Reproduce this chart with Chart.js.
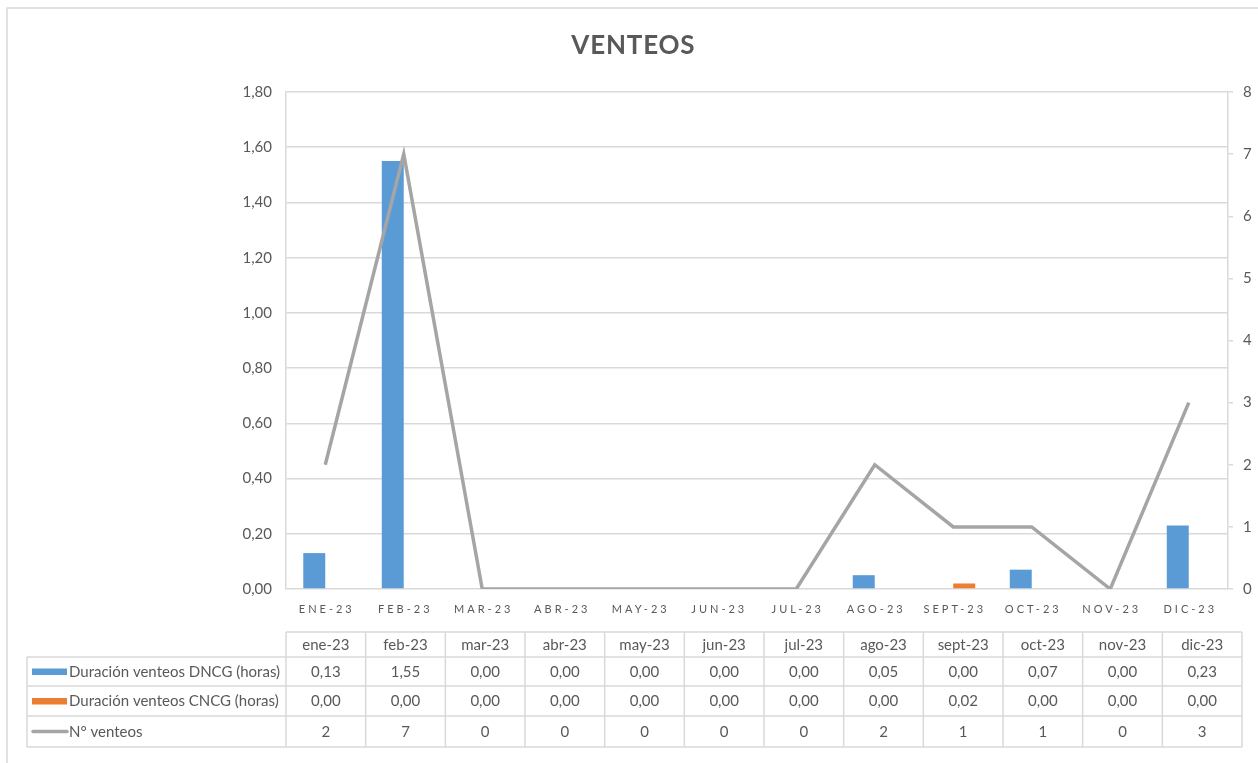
<!DOCTYPE html>
<html>
<head>
<meta charset="utf-8">
<script src="https://cdn.jsdelivr.net/npm/chart.js@4"></script>
<style>
  html, body { margin: 0; padding: 0; background: #fff; }
  #wrap { width: 1258px; height: 763px; position: relative; }
</style>
</head>
<body>
<div id="wrap"><canvas id="c" width="1258" height="763"></canvas></div>
<script>
const chartTitle = 'VENTEOS';
const categories = ['ene-23','feb-23','mar-23','abr-23','may-23','jun-23','jul-23','ago-23','sept-23','oct-23','nov-23','dic-23'];
const dncgHours = [0.13, 1.55, 0.00, 0.00, 0.00, 0.00, 0.00, 0.05, 0.00, 0.07, 0.00, 0.23];
const cncgHours = [0.00, 0.00, 0.00, 0.00, 0.00, 0.00, 0.00, 0.00, 0.02, 0.00, 0.00, 0.00];
const ventCount = [2, 7, 0, 0, 0, 0, 0, 2, 1, 1, 0, 3];
const seriesNames = ['Duración venteos DNCG (horas)', 'Duración venteos CNCG (horas)', 'N° venteos'];
const leftAxis = { min: 0, max: 1.8, step: 0.2 };
const rightAxis = { min: 0, max: 8, step: 1 };

const FONT = 'Lato, "Open Sans", sans-serif';
const TXT = '#595959';
const GRID = '#D9D9D9';
const BLUE = '#5B9BD5';
const ORANGE = '#ED7D31';
const GREY = '#A5A5A5';

const fmt2 = v => v.toFixed(2).replace('.', ',');

const extras = {
  id: 'extras',
  beforeDraw(chart) {
    const ctx = chart.ctx;
    ctx.save();
    ctx.fillStyle = '#fff';
    ctx.fillRect(0, 0, chart.width, chart.height);
    ctx.restore();
  },
  afterDraw(chart) {
    const ctx = chart.ctx;
    const xs = chart.scales.x;
    const area = chart.chartArea;
    ctx.save();

    // outer border
    ctx.strokeStyle = GRID;
    ctx.lineWidth = 1.5;
    ctx.beginPath();
    ctx.moveTo(7, 763);
    ctx.lineTo(7, 8);
    ctx.lineTo(1258, 8);
    ctx.stroke();

    // title
    ctx.fillStyle = TXT;
    ctx.font = 'bold 26px ' + FONT;
    ctx.textAlign = 'center';
    ctx.textBaseline = 'middle';
    ctx.letterSpacing = '0.8px';
    ctx.fillText(chartTitle, 633 + 0.4, 46);

    // x labels (uppercase, spaced)
    ctx.font = '11px ' + FONT;
    ctx.letterSpacing = '3px';
    categories.forEach((c, i) => {
      const x = xs.getPixelForValue(i);
      ctx.fillText(c.toUpperCase(), x + 1.5, 609);
    });
    ctx.letterSpacing = '0px';

    // data table
    const tLeft = area.left;
    const tRight = 1242;
    const colW = (tRight - tLeft) / categories.length;
    const rows = [632, 657, 686, 716, 747];
    const labelLeft = 27;
    ctx.strokeStyle = GRID;
    ctx.lineWidth = 1.5;
    ctx.beginPath();
    ctx.moveTo(tLeft, rows[0]); ctx.lineTo(tRight, rows[0]);
    for (let r = 1; r < rows.length; r++) {
      ctx.moveTo(labelLeft, rows[r]); ctx.lineTo(tRight, rows[r]);
    }
    for (let i = 0; i <= categories.length; i++) {
      const x = tLeft + i * colW;
      ctx.moveTo(x, rows[0]); ctx.lineTo(x, rows[4]);
    }
    ctx.moveTo(labelLeft, rows[1]); ctx.lineTo(labelLeft, rows[4]);
    ctx.stroke();

    ctx.fillStyle = TXT;
    ctx.font = '15px ' + FONT;
    ctx.textAlign = 'center';
    ctx.textBaseline = 'middle';
    const mid = r => (rows[r] + rows[r + 1]) / 2 + 0.5;
    categories.forEach((c, i) => {
      const cx = tLeft + (i + 0.5) * colW;
      ctx.fillText(c, cx, mid(0));
      ctx.fillText(fmt2(dncgHours[i]), cx, mid(1));
      ctx.fillText(fmt2(cncgHours[i]), cx, mid(2));
      ctx.fillText(String(ventCount[i]), cx, mid(3));
    });

    // row labels with legend keys
    ctx.textAlign = 'left';
    ctx.font = '15px ' + FONT;
    ctx.fillStyle = BLUE;
    ctx.fillRect(32, mid(1) - 3.5, 35, 6.5);
    ctx.fillStyle = ORANGE;
    ctx.fillRect(32, mid(2) - 3.5, 35, 6.5);
    ctx.strokeStyle = GREY;
    ctx.lineWidth = 3.5;
    ctx.lineCap = 'round';
    ctx.beginPath();
    ctx.moveTo(33, mid(3) - 0.5); ctx.lineTo(67, mid(3) - 0.5);
    ctx.stroke();
    ctx.fillStyle = TXT;
    ctx.fillText(seriesNames[0], 69, mid(1));
    ctx.fillText(seriesNames[1], 69, mid(2));
    ctx.fillText(seriesNames[2], 69, mid(3));

    ctx.restore();
  }
};

new Chart(document.getElementById('c'), {
  data: {
    labels: categories,
    datasets: [
      {
        type: 'line',
        label: seriesNames[2],
        data: ventCount,
        yAxisID: 'y1',
        borderColor: GREY,
        backgroundColor: GREY,
        borderWidth: 3.5,
        pointRadius: 0,
        tension: 0,
        order: 0
      },
      {
        type: 'bar',
        label: seriesNames[0],
        data: dncgHours,
        yAxisID: 'y',
        backgroundColor: BLUE,
        borderWidth: 0,
        categoryPercentage: 0.56,
        barPercentage: 1,
        order: 1
      },
      {
        type: 'bar',
        label: seriesNames[1],
        data: cncgHours,
        yAxisID: 'y',
        backgroundColor: ORANGE,
        borderWidth: 0,
        categoryPercentage: 0.56,
        barPercentage: 1,
        order: 1
      }
    ]
  },
  options: {
    responsive: false,
    animation: false,
    devicePixelRatio: 1,
    layout: { padding: { top: 92, bottom: 174, left: 0, right: 0 } },
    plugins: {
      legend: { display: false },
      title: { display: false },
      tooltip: { enabled: false }
    },
    scales: {
      x: {
        type: 'category',
        offset: true,
        grid: { display: false },
        border: { display: false },
        ticks: { display: false },
        afterFit: s => { s.height = 0; }
      },
      y: {
        position: 'left',
        min: leftAxis.min,
        max: leftAxis.max,
        ticks: {
          stepSize: leftAxis.step,
          color: TXT,
          font: { family: FONT, size: 15 },
          padding: 14,
          callback: v => fmt2(v)
        },
        grid: { color: GRID, lineWidth: 1.5, drawTicks: false },
        border: { display: true, color: GRID, width: 1.5 },
        afterFit: s => { s.width = 286; }
      },
      y1: {
        position: 'right',
        min: rightAxis.min,
        max: rightAxis.max,
        ticks: {
          stepSize: rightAxis.step,
          color: TXT,
          font: { family: FONT, size: 15 },
          padding: 10
        },
        grid: { drawOnChartArea: false, drawTicks: true, tickLength: 5, color: GRID, lineWidth: 1.5 },
        border: { display: true, color: GRID, width: 1.5 },
        afterFit: s => { s.width = 30; }
      }
    }
  },
  plugins: [extras]
});
</script>
</body>
</html>
